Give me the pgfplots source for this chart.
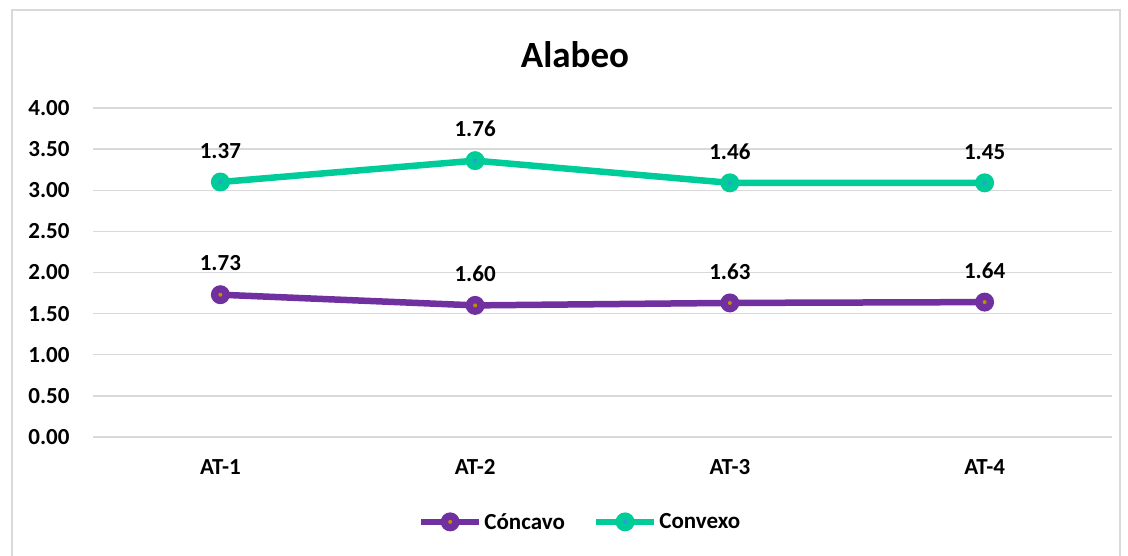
\documentclass[border=0pt]{standalone}
\usepackage{fontspec}
\setmainfont{Carlito}
\usepackage{pgfplots}
\pgfplotsset{compat=1.18}
\definecolor{conc}{HTML}{7030A0}
\definecolor{conv}{HTML}{00CC99}
\definecolor{concdot}{HTML}{C09000}
\definecolor{convdot}{HTML}{2E9AE0}
\definecolor{gridc}{HTML}{D9D9D9}
\pgfdeclareplotmark{concmark}{%
  \pgfpathcircle{\pgfpointorigin}{\pgfplotmarksize}\pgfusepathqfill
  \begin{pgfscope}\pgfsetfillcolor{concdot}%
  \pgfpathcircle{\pgfpointorigin}{2pt}\pgfusepathqfill\end{pgfscope}}
\pgfdeclareplotmark{convmark}{%
  \pgfpathcircle{\pgfpointorigin}{\pgfplotmarksize}\pgfusepathqfill
  \begin{pgfscope}\pgfsetfillcolor{convdot}%
  \pgfpathcircle{\pgfpointorigin}{2pt}\pgfusepathqfill\end{pgfscope}}
\begin{document}
\begin{tikzpicture}
\useasboundingbox (-93pt,-119pt) rectangle (1035pt,437pt);
\draw[gridc, line width=1.2pt] (-81pt,-125pt) rectangle (1027pt,427pt);
\begin{axis}[
  at={(0pt,0pt)}, anchor=south west,
  scale only axis, width=1019pt, height=329pt,
  xmin=-0.5, xmax=3.5, ymin=0, ymax=4,
  stack plots=y,
  xtick={0,1,2,3}, xticklabels={AT-1,AT-2,AT-3,AT-4},
  ytick={0,0.5,...,4},
  ymajorgrids, grid style={gridc, line width=1.3pt},
  axis line style={draw=none}, major tick length=0pt,
  /pgf/number format/assume math mode=true,
  ticklabel style={font=\fontsize{23}{27}\selectfont\bfseries},
  xticklabel style={yshift=-19pt},
  yticklabel style={/tikz/xshift=-20pt, /pgf/number format/fixed, /pgf/number format/fixed zerofill, /pgf/number format/precision=2},
  point meta=explicit,
  nodes near coords,
  every node near coord/.append style={font=\fontsize{23}{27}\selectfont\bfseries, text=black, anchor=south, /tikz/yshift=17pt,
    /pgf/number format/fixed, /pgf/number format/fixed zerofill, /pgf/number format/precision=2},
  legend columns=2,
  legend style={at={(0.478,-0.258)}, anchor=center, draw=none, fill=none,
    font=\fontsize{23}{27}\selectfont\bfseries,
    /tikz/every odd column/.append style={column sep=0pt},
    /tikz/every even column/.append style={column sep=26pt},
    nodes={inner xsep=2pt}},
  legend image code/.code={\draw[#1, mark repeat=2, mark phase=2] plot coordinates {(0pt,0pt) (29pt,0pt) (58pt,0pt)};},
]
\addplot[conc, line width=6.5pt, mark=concmark, mark size=9.5pt, mark options={fill=conc, draw=none}]
  coordinates {(0,1.73) [1.73] (1,1.60) [1.60] (2,1.63) [1.63] (3,1.64) [1.64]};
\addlegendentry{Cóncavo}
\addplot[conv, line width=6.5pt, mark=convmark, mark size=9.5pt, mark options={fill=conv, draw=none}]
  coordinates {(0,1.37) [1.37] (1,1.76) [1.76] (2,1.46) [1.46] (3,1.45) [1.45]};
\addlegendentry{Convexo}
\end{axis}
\node[font=\fontsize{37}{42}\selectfont\bfseries] at (482pt,382pt) {Alabeo};
\end{tikzpicture}
\end{document}
